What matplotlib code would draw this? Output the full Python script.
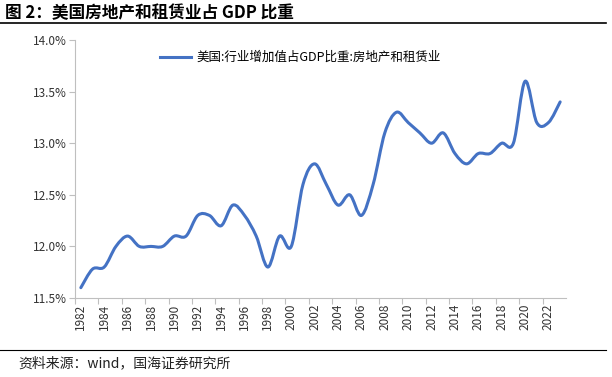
import matplotlib
matplotlib.use("Agg")
import matplotlib.pyplot as plt
from matplotlib.path import Path
from matplotlib.patches import PathPatch
from matplotlib.lines import Line2D
import numpy as np

plt.rcParams["font.family"] = ["Noto Sans CJK SC", "DejaVu Sans"]

YEARS = list(range(1982, 2024))
SHARE = [11.6, 11.78, 11.8, 12.0, 12.1, 12.0, 12.0, 12.0, 12.1, 12.1,
         12.3, 12.3, 12.2, 12.4, 12.3, 12.1, 11.8, 12.1, 12.0, 12.6,
         12.8, 12.6, 12.4, 12.5, 12.3, 12.6, 13.1, 13.3, 13.2, 13.1,
         13.0, 13.1, 12.9, 12.8, 12.9, 12.9, 13.0, 13.0, 13.6, 13.2,
         13.2, 13.4]
YTICKS = [11.5, 12.0, 12.5, 13.0, 13.5, 14.0]
TITLE = "图 2：美国房地产和租赁业占 GDP 比重"
LEGEND = "美国:行业增加值占GDP比重:房地产和租赁业"
SOURCE = "资料来源：wind，国海证券研究所"
BLUE = "#4472C4"
GREY = "#bfbfbf"


def smooth_path(x, y, t=1/6):
    # Catmull-Rom style bezier through the data points (Excel "smoothed line")
    verts = [(x[0], y[0])]
    codes = [Path.MOVETO]
    n = len(x)
    for i in range(n - 1):
        x0, y0 = (x[i - 1], y[i - 1]) if i > 0 else (x[i], y[i])
        x3, y3 = (x[i + 2], y[i + 2]) if i + 2 < n else (x[i + 1], y[i + 1])
        c1 = (x[i] + (x[i + 1] - x0) * t, y[i] + (y[i + 1] - y0) * t)
        c2 = (x[i + 1] - (x3 - x[i]) * t, y[i + 1] - (y3 - y[i]) * t)
        verts += [c1, c2, (x[i + 1], y[i + 1])]
        codes += [Path.CURVE4] * 3
    return Path(verts, codes)


fig = plt.figure(figsize=(6.12, 3.77), dpi=100)
ax = fig.add_axes([75 / 612, 1 - 298 / 377, (566 - 75) / 612, (298 - 40) / 377])

xs = np.arange(len(YEARS))
ax.add_patch(PathPatch(smooth_path(xs, SHARE), fill=False, edgecolor=BLUE,
                       lw=2.2, capstyle="round", joinstyle="round"))
ax.set_xlim(-0.5, len(YEARS) - 0.5)
ax.set_ylim(11.5, 14.0)

ax.set_yticks(YTICKS)
ax.set_yticklabels([f"{v:.1f}%" for v in YTICKS], fontsize=8.5, color="#333333")
ax.set_xticks(xs[::2] - 0.5)
ax.set_xticklabels([])
ax.set_xticks(xs[::2], minor=True)
ax.set_xticklabels([str(y) for y in YEARS[::2]], minor=True, rotation=90,
                   fontsize=8.5, color="#333333")
ax.tick_params(axis="x", which="minor", length=0, pad=4)
ax.tick_params(axis="x", which="major", length=4, color=GREY)
ax.tick_params(axis="y", length=4, color=GREY, pad=2)
for s in ("top", "right"):
    ax.spines[s].set_visible(False)
for s in ("left", "bottom"):
    ax.spines[s].set_color(GREY)

ax.legend([Line2D([], [], color=BLUE, lw=2.2)], [LEGEND], loc="upper left",
          bbox_to_anchor=(0.15, 1.0), frameon=False, fontsize=9,
          handlelength=2.5, handletextpad=0.4)

fig.text(0.008, 1 - 13 / 377, TITLE, fontsize=12, fontweight="bold", va="center")
fig.add_artist(Line2D([0, 0.99], [1 - 23 / 377] * 2, color="black", lw=1.2))
fig.add_artist(Line2D([0, 0.99], [1 - 350 / 377] * 2, color="black", lw=0.8))
fig.text(0.03, 1 - 363 / 377, SOURCE, fontsize=10, va="center", color="#222222")

fig.savefig("out.png", dpi=100)
